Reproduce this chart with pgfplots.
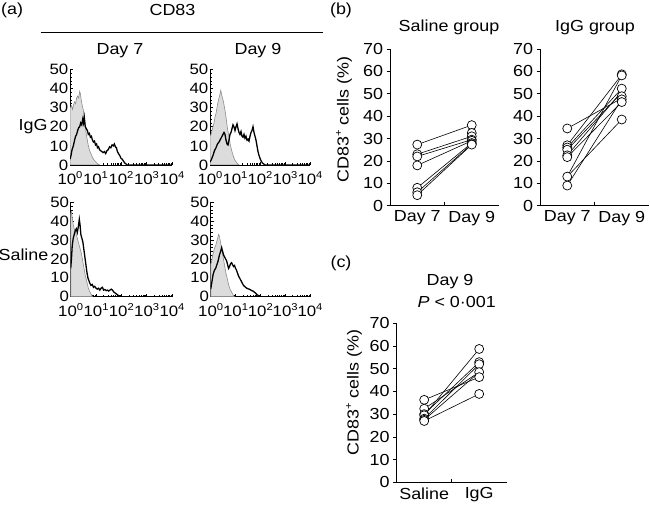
\documentclass[border=0pt]{standalone}
\usepackage{fontspec}
\setmainfont{Liberation Sans}[FakeStretch=1.12]
\usepackage{pgfplots}
\pgfplotsset{compat=1.18}
\newcommand\sups[1]{\raisebox{0.42em}{\fontsize{10}{10}\selectfont #1}}
\newcommand\fs{\fontsize{16}{18}\selectfont}
\definecolor{fillgray}{HTML}{DCDCDC}
\definecolor{edgegray}{HTML}{8C8C8C}
\pgfplotsset{
  histo/.style={scale only axis, axis lines*=left,
    xmin=0, xmax=4, ymin=0, ymax=50,
    xtick={0,1,2,3,4},
    xticklabels={10\sups{0},10\sups{1},10\sups{2},10\sups{3},10\sups{4}},
    minor xtick={0.301,0.477,0.602,0.699,0.778,0.845,0.903,0.954,1.301,1.477,1.602,1.699,1.778,1.845,1.903,1.954,2.301,2.477,2.602,2.699,2.778,2.845,2.903,2.954,3.301,3.477,3.602,3.699,3.778,3.845,3.903,3.954},
    ytick={0,10,...,50}, minor y tick num=4,
    tick align=inside, major tick length=3pt, minor tick length=1.8pt,
    tick style={black, line width=0.5pt},
    axis line style={black, line width=0.7pt},
    ticklabel style={font=\fontsize{15}{15}\selectfont},
    yticklabel style={inner sep=0pt, xshift=-1.5pt},
    xticklabel style={inner sep=0pt, yshift=-6.5pt},
    /pgf/number format/assume math mode=true,
  },
  gfill/.style={fill=fillgray, draw=edgegray, line width=0.6pt},
  bline/.style={black, line width=1.3pt},
  pair/.style={scale only axis, axis lines*=left,
    xmin=0.5, xmax=2.5, ymin=0, ymax=70,
    ytick={0,10,...,70}, xtick={1.5}, xticklabels={},
    tick align=outside, major tick length=3.5pt,
    xtick style={yshift=3.5pt},
    tick style={black, line width=0.6pt},
    axis line style={black, line width=0.7pt},
    ticklabel style={font=\fs},
    extra x ticks={1,2},
    extra x tick style={major tick length=0pt, tick style={draw=none}, xticklabel style={inner sep=5pt}},
    /pgf/number format/assume math mode=true,
  },
  pl/.style={black, line width=0.6pt, no marks},
  pm/.style={only marks, mark=*, mark size=4.5pt, mark options={fill=white, draw=black, line width=0.7pt}},
}
\begin{document}
\begin{tikzpicture}
\useasboundingbox (0,0) rectangle (650pt,507pt);

% ---------- (a) histograms ----------
\begin{axis}[histo, at={(70pt,342pt)}, anchor=south west, width=102pt, height=95.7pt]
\addplot[gfill] coordinates {(0,0)(0,30)(0.02,30)(0.06,31)(0.1,29)(0.14,31.5)(0.18,33)(0.22,32)(0.26,35)(0.3,36)(0.34,35)(0.38,38.5)(0.41,37)(0.44,34)(0.48,31)(0.52,29)(0.56,24)(0.6,20)(0.64,16)(0.68,13)(0.72,10)(0.76,8)(0.8,6.5)(0.85,5)(0.9,3.5)(0.95,2.5)(1.0,1.8)(1.05,1)(1.1,0.5)(1.17,0)} \closedcycle;
\addplot[bline] coordinates {(0,3)(0.04,5)(0.08,8)(0.13,10)(0.18,13)(0.22,15)(0.26,16)(0.3,18)(0.34,19.5)(0.38,20)(0.42,22)(0.46,21)(0.5,24)(0.53,22)(0.56,25)(0.6,20)(0.64,19)(0.68,18)(0.72,16)(0.76,16.5)(0.8,14.5)(0.84,15)(0.88,13)(0.92,12)(0.96,12.5)(1.0,10.5)(1.04,11)(1.08,9)(1.12,9.5)(1.16,8)(1.2,7.5)(1.25,7)(1.3,6.5)(1.35,7)(1.4,6)(1.45,7.5)(1.5,8)(1.55,9.5)(1.6,9)(1.65,10.5)(1.7,10)(1.74,11)(1.78,9.5)(1.82,9)(1.86,7)(1.9,6)(1.95,5)(2.0,3.5)(2.05,3)(2.1,2)(2.15,1)(2.2,0.5)(2.25,0)(4,0)};
\end{axis}

\begin{axis}[histo, at={(210pt,342pt)}, anchor=south west, width=100pt, height=95.7pt]
\addplot[gfill] coordinates {(0,0)(0,15)(0.04,16)(0.08,18)(0.12,20)(0.16,22)(0.2,25)(0.24,27)(0.28,30)(0.32,33)(0.36,35)(0.4,37)(0.43,39)(0.46,37)(0.5,35)(0.54,33)(0.58,30)(0.62,27)(0.66,23)(0.7,19)(0.74,16)(0.78,13)(0.82,10)(0.86,8)(0.9,6)(0.95,4)(1.0,2.5)(1.05,1.5)(1.1,0.7)(1.17,0)} \closedcycle;
\addplot[bline] coordinates {(0,1.5)(0.06,3)(0.12,5)(0.18,7.5)(0.24,9)(0.3,11)(0.36,12)(0.42,13.5)(0.48,15)(0.52,16)(0.56,17)(0.6,16)(0.64,13)(0.68,11)(0.72,10.5)(0.76,13)(0.8,16)(0.84,17)(0.88,19)(0.92,21)(0.96,20)(1.0,18)(1.04,20)(1.08,21.5)(1.12,19)(1.16,17)(1.2,16)(1.24,17.5)(1.28,15)(1.32,14.5)(1.36,16)(1.4,14)(1.44,15)(1.48,13)(1.52,13.5)(1.56,12.5)(1.6,15)(1.64,17)(1.68,18)(1.72,20)(1.76,17)(1.8,15)(1.84,13)(1.88,10)(1.92,7)(1.96,5)(2.0,3.5)(2.05,2)(2.1,1)(2.15,0.5)(2.2,0)(4,0)};
\end{axis}

\begin{axis}[histo, at={(70.7pt,210.3pt)}, anchor=south west, width=101.3pt, height=94.4pt]
\addplot[gfill] coordinates {(0,0)(0,44)(0.03,45)(0.06,42)(0.1,38)(0.14,36)(0.18,34)(0.22,33)(0.26,31)(0.3,29)(0.34,27)(0.38,25)(0.42,23)(0.46,20)(0.5,17)(0.54,14)(0.58,11)(0.62,9)(0.66,6.5)(0.7,4.5)(0.74,3)(0.78,2)(0.82,1)(0.86,0)} \closedcycle;
\addplot[bline] coordinates {(0,15)(0.03,20)(0.06,27)(0.1,31)(0.14,33)(0.18,35)(0.22,36)(0.26,34)(0.3,37)(0.34,41)(0.37,38)(0.4,33)(0.44,31)(0.48,29)(0.52,25)(0.56,21)(0.6,17)(0.64,13)(0.68,10)(0.72,8.5)(0.76,7)(0.8,6)(0.85,6.5)(0.9,5)(0.95,5.5)(1.0,4.5)(1.05,4)(1.1,4.5)(1.15,3.5)(1.2,4.5)(1.25,5)(1.3,3.5)(1.35,3.8)(1.4,3.2)(1.45,3.5)(1.5,3)(1.55,3.5)(1.6,4)(1.65,3.5)(1.7,2.5)(1.75,2)(1.8,1.5)(1.85,1)(1.9,0.5)(1.95,0)(4,0)};
\end{axis}

\begin{axis}[histo, at={(210.7pt,210.3pt)}, anchor=south west, width=99.3pt, height=94.4pt]
\addplot[gfill] coordinates {(0,0)(0,17)(0.04,19)(0.08,22)(0.12,24)(0.16,26)(0.2,27)(0.24,29)(0.28,31)(0.32,33)(0.35,32)(0.38,30)(0.42,27)(0.46,24)(0.5,21)(0.54,18)(0.58,15)(0.62,12)(0.66,10)(0.7,7.5)(0.74,5.5)(0.78,4)(0.82,3)(0.86,2)(0.9,1)(0.95,0)} \closedcycle;
\addplot[bline] coordinates {(0,4)(0.05,8)(0.1,12)(0.15,14)(0.2,15)(0.25,17)(0.3,19)(0.35,22)(0.4,24)(0.44,26)(0.48,24)(0.52,22)(0.56,21)(0.6,20)(0.64,19)(0.68,17)(0.72,15)(0.76,16)(0.8,17.5)(0.84,18)(0.88,17)(0.92,16)(0.96,16.5)(1.0,15)(1.04,14)(1.08,12.5)(1.12,11)(1.16,10)(1.2,9)(1.24,8)(1.28,7)(1.32,6)(1.36,5.5)(1.4,5)(1.45,4.5)(1.5,4.2)(1.55,4)(1.6,3.7)(1.65,3.2)(1.7,3)(1.75,2.5)(1.8,2)(1.85,1.3)(1.9,0.8)(1.95,0.3)(2.0,0)(4,0)};
\end{axis}

% ---------- (b) Saline group ----------
\begin{axis}[pair, at={(390pt,301.3pt)}, anchor=south west, width=109pt, height=156.7pt,
  extra x tick labels={Day 7,Day 9}]
\addplot[pl] coordinates {(1,27.3)(2,36)};
\addplot[pl] coordinates {(1,23)(2,31)};
\addplot[pl] coordinates {(1,22)(2,29.5)};
\addplot[pl] coordinates {(1,18)(2,29)};
\addplot[pl] coordinates {(1,8)(2,28)};
\addplot[pl] coordinates {(1,6)(2,27.5)};
\addplot[pl] coordinates {(1,4.7)(2,27.3)};
\addplot[pm] coordinates {(1,27.3)(1,23)(1,22)(1,18)(1,8)(1,6)(1,4.7)(2,36)(2,32.5)(2,31)(2,29.5)(2,29)(2,28)(2,27.5)(2,27.3)};
\end{axis}

% ---------- (b) IgG group ----------
\begin{axis}[pair, at={(540pt,301.3pt)}, anchor=south west, width=109pt, height=156.7pt,
  extra x tick labels={Day 7,Day 9}]
\addplot[pl] coordinates {(1,34.5)(2,48)};
\addplot[pl] coordinates {(1,27)(2,58.5)};
\addplot[pl] coordinates {(1,26)(2,52.3)};
\addplot[pl] coordinates {(1,25)(2,50.5)};
\addplot[pl] coordinates {(1,22.5)(2,51)};
\addplot[pl] coordinates {(1,21.7)(2,46.3)};
\addplot[pl] coordinates {(1,13)(2,58.2)};
\addplot[pl] coordinates {(1,13)(2,38.5)};
\addplot[pl] coordinates {(1,9)(2,47.5)};
\addplot[pm] coordinates {(1,34.5)(1,27)(1,26)(1,25)(1,22.5)(1,21.7)(1,13)(1,9)(2,58.7)(2,58.2)(2,52.3)(2,48.9)(2,47.5)(2,46.3)(2,38.5)};
\end{axis}

% ---------- (c) ----------
\begin{axis}[pair, at={(396.7pt,24.7pt)}, anchor=south west, width=110pt, height=159pt,
  extra x tick labels={Saline,IgG}]
\addplot[pl] coordinates {(1,36.3)(2,46.3)};
\addplot[pl] coordinates {(1,32.4)(2,48.5)};
\addplot[pl] coordinates {(1,30)(2,52.9)};
\addplot[pl] coordinates {(1,29.5)(2,58.7)};
\addplot[pl] coordinates {(1,28)(2,52)};
\addplot[pl] coordinates {(1,27.5)(2,48.5)};
\addplot[pl] coordinates {(1,27)(2,38.9)};
\addplot[pm] coordinates {(1,36.3)(1,32.4)(1,30)(1,29.5)(1,28)(1,27.5)(1,27)(2,58.7)(2,52.9)(2,52)(2,48.5)(2,46.3)(2,38.9)};
\end{axis}

% ---------- texts ----------
\node[anchor=west, inner sep=0pt, font=\fs] at (1pt,497pt) {(a)};
\node[font=\fs] at (172.5pt,497.5pt) {CD83};
\draw[line width=0.8pt] (40.7pt,474.7pt) -- (323pt,474.7pt);
\node[font=\fs] at (120pt,456pt) {Day 7};
\node[font=\fs] at (258pt,456pt) {Day 9};
\node[font=\fs, anchor=base] at (33pt,376pt) {IgG};
\node[font=\fs, anchor=base] at (23.5pt,247pt) {Saline};

\node[font=\fs] at (341pt,497pt) {(b)};
\node[font=\fs, anchor=base] at (449pt,475.3pt) {Saline group};
\node[font=\fs, anchor=base] at (595pt,475.3pt) {IgG group};
\node[font=\fs, rotate=90] at (344pt,387.5pt) {CD83\sups{+} cells (\%)};

\node[font=\fs] at (341pt,244pt) {(c)};
\node[font=\fs] at (450pt,225.5pt) {Day 9};
\node[font=\fs] at (456.7pt,205.5pt) {\textit{P} < 0·001};
\node[font=\fs, rotate=90] at (354pt,114.5pt) {CD83\sups{+} cells (\%)};
\end{tikzpicture}
\end{document}
